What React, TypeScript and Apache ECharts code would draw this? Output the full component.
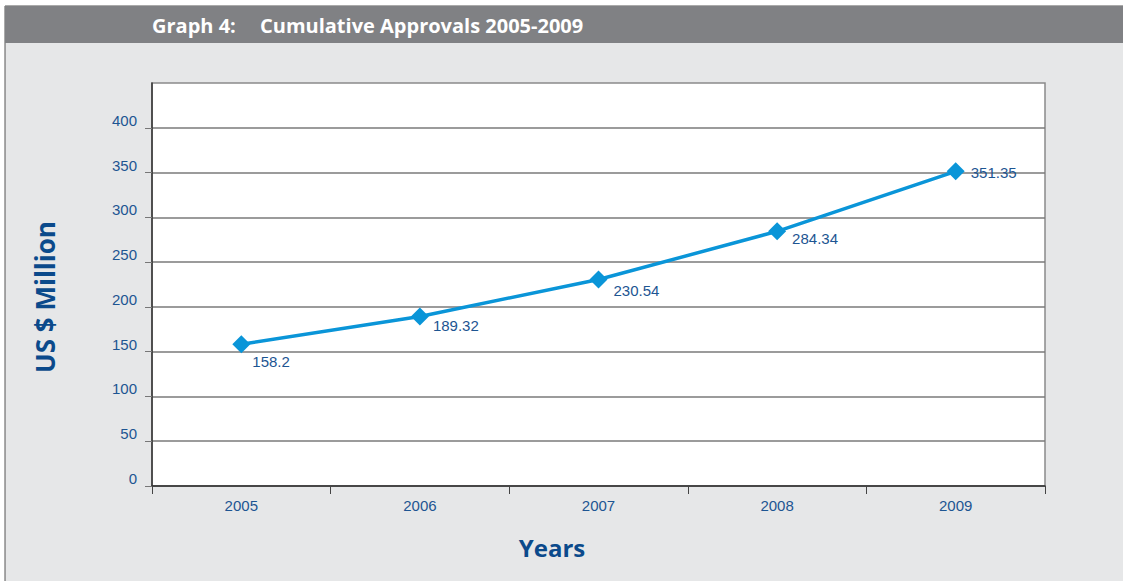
import React, { useEffect, useRef } from "react";
import * as echarts from "echarts";

const years = ["2005", "2006", "2007", "2008", "2009"];
const approvals = [158.2, 189.32, 230.54, 284.34, 351.35];
const yTicks = [0, 50, 100, 150, 200, 250, 300, 350, 400];
const labelOffsets = [[-4, 17], [-2, 9], [0, 11], [0, 7], [0, 1]];

const BLUE_TEXT = "#1d5592";
const DARK_BLUE = "#0b4a8b";
const LINE = "#0a95d8";

export default function App() {
  const ref = useRef<HTMLDivElement>(null);
  useEffect(() => {
    document.body.style.margin = "0";
    const chart = echarts.init(ref.current!, null, { renderer: "svg" });
    chart.setOption({
      animation: false,
      backgroundColor: "#ffffff",
      graphic: [
        { type: "rect", z: -10, shape: { x: 5, y: 6, width: 1130, height: 590 }, style: { fill: "#e6e7e8", stroke: "#555", lineWidth: 1 } },
        { type: "rect", z: -9, shape: { x: 5, y: 6, width: 1130, height: 37 }, style: { fill: "#808184" } },
        { type: "text", x: 152, y: 25, style: { text: "Graph 4:", fill: "#fff", font: "bold 20px 'Open Sans'", verticalAlign: "middle" } },
        { type: "text", x: 260, y: 25, style: { text: "Cumulative Approvals 2005-2009", fill: "#fff", font: "bold 20px 'Open Sans'", verticalAlign: "middle" } },
        { type: "text", x: 45, y: 297, rotation: Math.PI / 2, style: { text: "US $ Million", fill: DARK_BLUE, font: "bold 26px 'Open Sans'", align: "center", verticalAlign: "middle" } },
        { type: "text", x: 552, y: 547, style: { text: "Years", fill: DARK_BLUE, font: "bold 24px 'Open Sans'", align: "center", verticalAlign: "middle" } },
      ],
      grid: {
        left: 152, right: 78, top: 83, bottom: 95,
        show: true, backgroundColor: "#ffffff", borderColor: "#8a8a8a", borderWidth: 1.5,
      },
      xAxis: {
        type: "category",
        data: years,
        boundaryGap: true,
        axisLine: { lineStyle: { color: "#333", width: 1.5 } },
        axisTick: { show: true, length: 8, lineStyle: { color: "#444" } },
        axisLabel: { color: BLUE_TEXT, fontSize: 15, fontFamily: "Liberation Sans", margin: 12 },
      },
      yAxis: {
        type: "value",
        min: 0, max: 450, interval: 50,
        axisLine: { show: true, lineStyle: { color: "#333", width: 1.5 } },
        axisTick: { show: true, length: 7, customValues: yTicks, lineStyle: { color: "#777" } },
        axisLabel: {
          color: BLUE_TEXT, fontSize: 15, fontFamily: "Liberation Sans", margin: 15,
          verticalAlign: "bottom",
          customValues: yTicks,
        },
        splitLine: { show: true, lineStyle: { color: "#7a7a7a", width: 1.5 } },
      },
      series: [
        {
          type: "line",
          data: approvals.map((v, i) => ({
            value: v,
            label: { offset: labelOffsets[i] },
          })),
          symbol: "diamond",
          symbolSize: 18,
          lineStyle: { color: LINE, width: 3.5 },
          itemStyle: { color: LINE },
          label: {
            show: true, position: "right", distance: 6,
            color: BLUE_TEXT, fontSize: 15, fontFamily: "Liberation Sans",
          },
        },
      ],
    });
    return () => chart.dispose();
  }, []);
  return <div ref={ref} style={{ position: "fixed", left: 0, top: 0, width: 1123, height: 581 }} />;
}
